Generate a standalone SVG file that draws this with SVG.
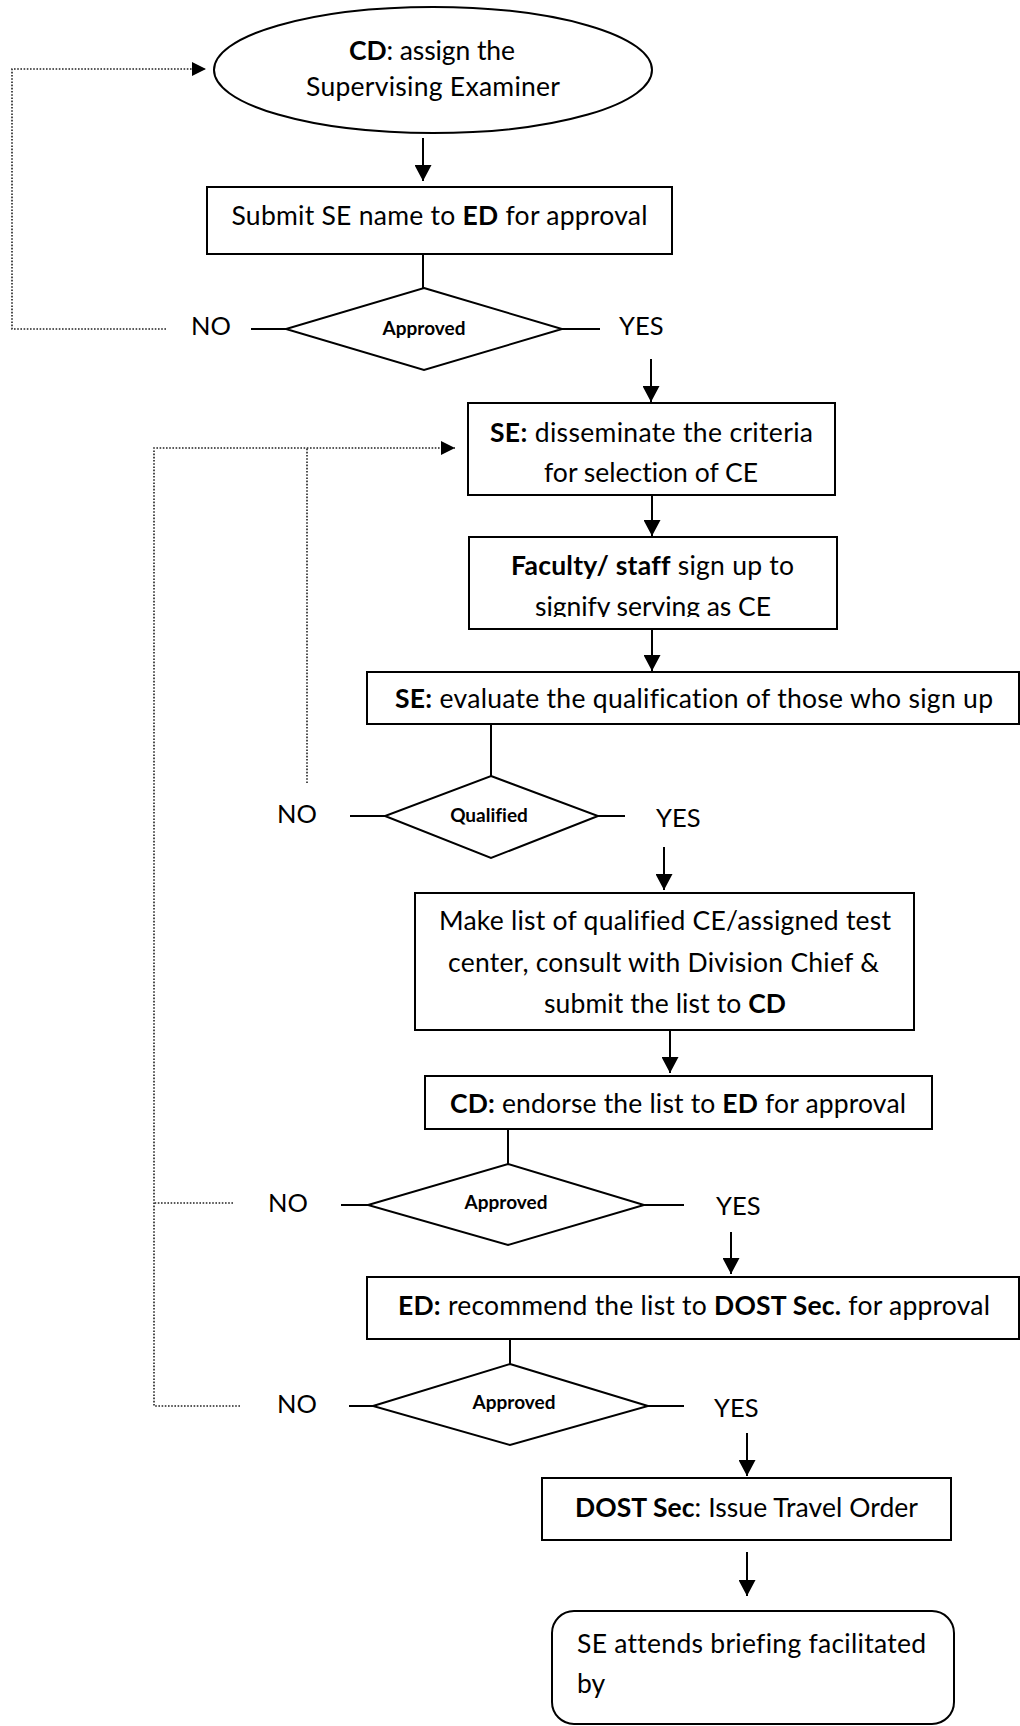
<svg xmlns="http://www.w3.org/2000/svg" width="1020" height="1726" viewBox="0 0 1020 1726">
<style>
.t{font-family:Lato,"Noto Sans",sans-serif;font-size:26.5px;fill:#000;font-variant-ligatures:none;font-feature-settings:"liga" 0,"clig" 0}
.c{text-anchor:middle}
.b{font-weight:bold}
.yn{font-size:25.5px}
.d{font-family:Lato,"Noto Sans",sans-serif;font-size:19px;font-weight:bold;fill:#000;text-anchor:middle;font-variant-ligatures:none;font-feature-settings:"liga" 0}
.shape{fill:#fff;stroke:#000;stroke-width:2}
.ln{stroke:#000;stroke-width:2;fill:none}
.dot{stroke:#222;stroke-width:1.6;fill:none;stroke-dasharray:1.6 1.6}
</style>
<defs>
<marker id="ah" markerUnits="userSpaceOnUse" markerWidth="17" markerHeight="17" refX="16" refY="8.5" orient="auto">
<path d="M0,0 L16,8.5 L0,17 z" fill="#000"/>
</marker>
<marker id="ahd" markerUnits="userSpaceOnUse" markerWidth="15" markerHeight="14" refX="14" refY="7" orient="auto">
<path d="M0,0 L14,7 L0,14 z" fill="#000"/>
</marker>
<clipPath id="clipFac"><rect x="469" y="537" width="368" height="80"/></clipPath>
</defs>
<rect width="1020" height="1726" fill="#fff"/>

<g id="connectors">
<line class="ln" x1="423" y1="138" x2="423" y2="181" marker-end="url(#ah)"/>
<line class="ln" x1="423" y1="254" x2="423" y2="288"/>
<line class="ln" x1="251" y1="329" x2="286" y2="329"/>
<line class="ln" x1="562" y1="329" x2="600" y2="329"/>
<path class="dot" d="M166,329 H12 V69 H206" marker-end="url(#ahd)"/>
<line class="ln" x1="651" y1="359" x2="651" y2="402" marker-end="url(#ah)"/>
<line class="ln" x1="652" y1="495" x2="652" y2="536" marker-end="url(#ah)"/>
<line class="ln" x1="652" y1="629" x2="652" y2="671" marker-end="url(#ah)"/>
<line class="ln" x1="491" y1="724" x2="491" y2="776"/>
<line class="ln" x1="350" y1="816" x2="385" y2="816"/>
<line class="ln" x1="598" y1="816" x2="625" y2="816"/>
<path class="dot" d="M240,1406 H154 V448 H455" marker-end="url(#ahd)"/>
<path class="dot" d="M307,783 V448"/>
<path class="dot" d="M233,1203 H154"/>
<line class="ln" x1="664" y1="847" x2="664" y2="890" marker-end="url(#ah)"/>
<line class="ln" x1="670" y1="1030" x2="670" y2="1073" marker-end="url(#ah)"/>
<line class="ln" x1="508" y1="1129" x2="508" y2="1164"/>
<line class="ln" x1="341" y1="1205" x2="368" y2="1205"/>
<line class="ln" x1="644" y1="1205" x2="684" y2="1205"/>
<line class="ln" x1="731" y1="1232" x2="731" y2="1274" marker-end="url(#ah)"/>
<line class="ln" x1="510" y1="1339" x2="510" y2="1364"/>
<line class="ln" x1="349" y1="1406" x2="373" y2="1406"/>
<line class="ln" x1="648" y1="1406" x2="684" y2="1406"/>
<line class="ln" x1="747" y1="1433" x2="747" y2="1476" marker-end="url(#ah)"/>
<line class="ln" x1="747" y1="1552" x2="747" y2="1596" marker-end="url(#ah)"/>
</g>

<g id="start">
<ellipse class="shape" cx="433" cy="70" rx="219" ry="63"/>
<text class="t c" x="432" y="60" textLength="166" lengthAdjust="spacing"><tspan class="b">CD</tspan>: assign the</text>
<text class="t c" x="433" y="96" textLength="254" lengthAdjust="spacing">Supervising Examiner</text>
</g>

<g id="submit">
<rect class="shape" x="207" y="187" width="465" height="67"/>
<text class="t c" x="439.5" y="225" textLength="416" lengthAdjust="spacing">Submit SE name to <tspan class="b">ED</tspan> for approval</text>
</g>

<g id="dec1">
<polygon class="shape" points="424,288 562,329 424,370 286,329"/>
<text class="d" x="424" y="335">Approved</text>
<text class="t yn" x="191" y="335">NO</text>
<text class="t yn" x="619" y="335">YES</text>
</g>

<g id="disseminate">
<rect class="shape" x="468" y="403" width="367" height="92"/>
<text class="t c" x="651.5" y="442" textLength="323" lengthAdjust="spacing"><tspan class="b">SE:</tspan> disseminate the criteria</text>
<text class="t c" x="651" y="482" textLength="214" lengthAdjust="spacing">for selection of CE</text>
</g>

<g id="signup">
<rect class="shape" x="469" y="537" width="368" height="92"/>
<text class="t c" x="652.5" y="575" textLength="283" lengthAdjust="spacing"><tspan class="b">Faculty/ staff</tspan> sign up to</text>
<text class="t c" x="653" y="616" textLength="236" lengthAdjust="spacing" clip-path="url(#clipFac)">signify serving as CE</text>
</g>

<g id="evaluate">
<rect class="shape" x="367" y="672" width="652" height="52"/>
<text class="t c" x="694" y="708" textLength="598" lengthAdjust="spacing"><tspan class="b">SE:</tspan> evaluate the qualification of those who sign up</text>
</g>

<g id="dec2">
<polygon class="shape" points="491,776 598,816 491,858 385,816"/>
<text class="d" x="489" y="822">Qualified</text>
<text class="t yn" x="277" y="823">NO</text>
<text class="t yn" x="656" y="827">YES</text>
</g>

<g id="makelist">
<rect class="shape" x="415" y="893" width="499" height="137"/>
<text class="t c" x="665" y="930" textLength="452" lengthAdjust="spacing">Make list of qualified CE/assigned test</text>
<text class="t c" x="663.5" y="972" textLength="431" lengthAdjust="spacing">center, consult with Division Chief &amp;</text>
<text class="t c" x="665" y="1013" textLength="242" lengthAdjust="spacing">submit the list to <tspan class="b">CD</tspan></text>
</g>

<g id="endorse">
<rect class="shape" x="425" y="1076" width="507" height="53"/>
<text class="t c" x="678" y="1113" textLength="456" lengthAdjust="spacing"><tspan class="b">CD:</tspan> endorse the list to <tspan class="b">ED</tspan> for approval</text>
</g>

<g id="dec3">
<polygon class="shape" points="508,1164 644,1205 508,1245 368,1205"/>
<text class="d" x="506" y="1209">Approved</text>
<text class="t yn" x="268" y="1212">NO</text>
<text class="t yn" x="716" y="1215">YES</text>
</g>

<g id="recommend">
<rect class="shape" x="367" y="1277" width="652" height="62"/>
<text class="t c" x="694" y="1315" textLength="592" lengthAdjust="spacing"><tspan class="b">ED:</tspan> recommend the list to <tspan class="b">DOST Sec.</tspan> for approval</text>
</g>

<g id="dec4">
<polygon class="shape" points="510,1364 648,1406 510,1445 373,1406"/>
<text class="d" x="514" y="1409">Approved</text>
<text class="t yn" x="277" y="1413">NO</text>
<text class="t yn" x="714" y="1417">YES</text>
</g>

<g id="travel">
<rect class="shape" x="542" y="1478" width="409" height="62"/>
<text class="t c" x="746.5" y="1517" textLength="343" lengthAdjust="spacing"><tspan class="b">DOST Sec</tspan>: Issue Travel Order</text>
</g>

<g id="briefing">
<rect class="shape" x="552" y="1611" width="402" height="113" rx="22" ry="22"/>
<text class="t" x="577" y="1653" textLength="349" lengthAdjust="spacing">SE attends briefing facilitated</text>
<text class="t" x="577" y="1693">by</text>
</g>
</svg>
